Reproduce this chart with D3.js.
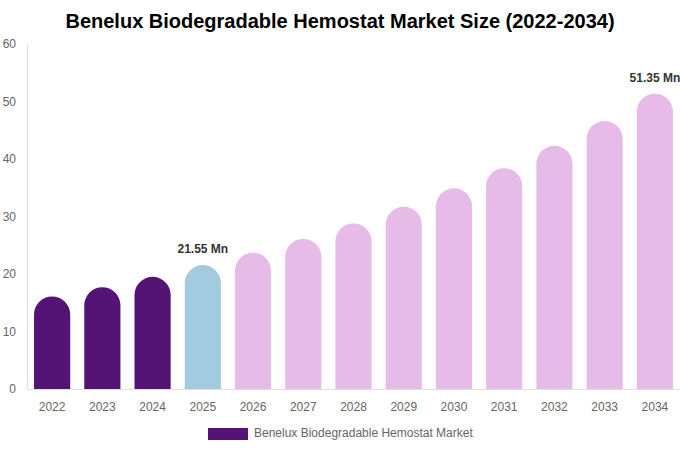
<!DOCTYPE html>
<html>
<head>
<meta charset="utf-8">
<script src="https://cdn.jsdelivr.net/npm/d3@7"></script>
<style>
  body { margin: 0; background: #fff; }
  #space { width: 680px; height: 450px; }
  text { font-family: "Liberation Sans", Arial, sans-serif; }
</style>
</head>
<body>
<div id="space"></div>
<script>
var years = ["2022", "2023", "2024", "2025", "2026", "2027", "2028", "2029", "2030", "2031", "2032", "2033", "2034"];
var values = [16.1, 17.7, 19.5, 21.55, 23.7, 26.1, 28.8, 31.7, 34.9, 38.4, 42.3, 46.6, 51.35];
var yTicks = [0, 10, 20, 30, 40, 50, 60];
var labelled = { "2025": "21.55 Mn", "2034": "51.35 Mn" };
var seriesName = "Benelux Biodegradable Hemostat Market";

var W = 680, H = 450;
// plot edges (don't call these "top", that's window.top)
var plot_l = 27, plot_r = 680, plot_t = 44, plot_b = 389;

var svg = d3.select("#space").append("svg")
    .attr("width", W)
    .attr("height", H);

// title
svg.append("text")
    .attr("x", 340)
    .attr("y", 28)
    .attr("text-anchor", "middle")
    .attr("font-size", "20")
    .attr("font-weight", "bold")
    .attr("fill", "#000")
    .text("Benelux Biodegradable Hemostat Market Size (2022-2034)");

var x = d3.scaleBand().domain(years).range([plot_l, plot_r]).paddingInner(0.28).paddingOuter(0.14);
var y = d3.scaleLinear().domain([0, 60]).range([plot_b, plot_t]);

function barColor(yr) {
    var n = +yr;
    if (n <= 2024) return "#541476";
    if (n == 2025) return "#A4CADF";
    return "#E7BBE8";
}

// y axis labels
svg.append("g").selectAll("text")
    .data(yTicks)
    .enter().append("text")
    .attr("x", 16)
    .attr("y", function (d) { return y(d) + 4; })
    .attr("text-anchor", "end")
    .attr("font-size", "12")
    .attr("fill", "#666")
    .text(function (d) { return d; });

// axis lines
svg.append("line")
    .attr("x1", plot_l + 0.5).attr("x2", plot_l + 0.5)
    .attr("y1", plot_t).attr("y2", plot_b)
    .attr("stroke", "#e0e0e0");
svg.append("line")
    .attr("x1", plot_l).attr("x2", plot_r)
    .attr("y1", plot_b + 0.5).attr("y2", plot_b + 0.5)
    .attr("stroke", "#e0e0e0");

// rounded-top bars
var bw = x.bandwidth(), r = bw / 2;
svg.append("g").selectAll("path")
    .data(years)
    .enter().append("path")
    .attr("fill", function (d) { return barColor(d); })
    .attr("d", function (d, i) {
        var x0 = x(d), yt = y(values[i]);
        var p = d3.path();
        p.moveTo(x0, plot_b);
        p.lineTo(x0, yt + r);
        p.arc(x0 + r, yt + r, r, Math.PI, 2 * Math.PI);
        p.lineTo(x0 + bw, plot_b);
        p.closePath();
        return p.toString();
    });

// data labels
svg.append("g").selectAll("text")
    .data(years.filter(function (d) { return labelled[d]; }))
    .enter().append("text")
    .attr("x", function (d) { return x(d) + bw / 2; })
    .attr("y", function (d) { return y(values[years.indexOf(d)]) - 12; })
    .attr("text-anchor", "middle")
    .attr("font-size", "12")
    .attr("font-weight", "bold")
    .attr("fill", "#333")
    .text(function (d) { return labelled[d]; });

// x labels
svg.append("g").selectAll("text")
    .data(years)
    .enter().append("text")
    .attr("x", function (d) { return x(d) + bw / 2; })
    .attr("y", 411)
    .attr("text-anchor", "middle")
    .attr("font-size", "12")
    .attr("fill", "#666")
    .text(function (d) { return d; });

// legend
svg.append("rect")
    .attr("x", 208).attr("y", 428)
    .attr("width", 40).attr("height", 12)
    .attr("fill", "#541476");
svg.append("text")
    .attr("x", 254)
    .attr("y", 437)
    .attr("font-size", "12")
    .attr("fill", "#666")
    .text(seriesName);
</script>
</body>
</html>
